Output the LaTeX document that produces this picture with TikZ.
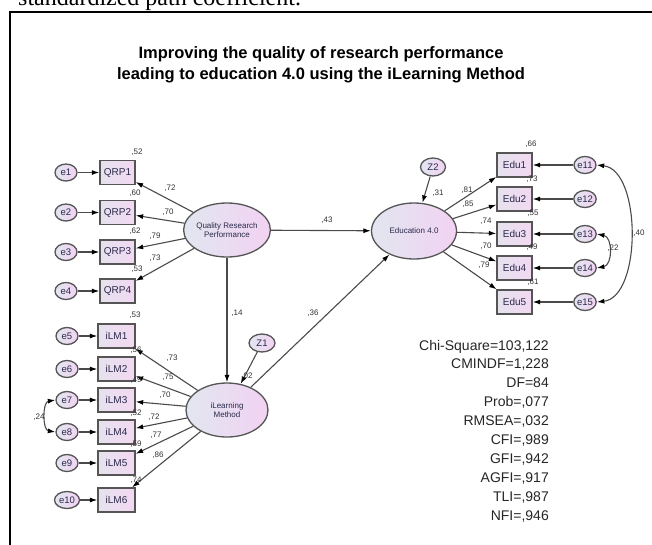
\documentclass[tikz,border=0pt]{standalone}
\usepackage{fontspec}
\setmainfont{Liberation Sans}
\newfontfamily\serifhead{Liberation Serif}
\usetikzlibrary{shapes.geometric,arrows.meta}
\definecolor{linec}{HTML}{4A4A4A}
\definecolor{boxc}{HTML}{555555}
\definecolor{boxl}{HTML}{E6E2EE}
\definecolor{boxr}{HTML}{F2D8F2}
\definecolor{elll}{HTML}{E2E6F0}
\definecolor{ellr}{HTML}{F2D2F2}
\definecolor{txtc}{HTML}{2A2A4A}
\definecolor{labc}{HTML}{333333}
\begin{document}
\begin{tikzpicture}[x=1pt,y=-1pt,
  arr/.style={draw=linec, line width=1.1pt, -{Latex[length=7.5pt,width=5pt,color=black]}},
  covar/.style={draw=linec, line width=1.1pt, {Latex[length=7.5pt,width=5pt,color=black]}-{Latex[length=7.5pt,width=5pt,color=black]}},
  obsbox/.style={draw=boxc, line width=1.3pt, left color=boxl, right color=boxr,
    minimum width=35pt, minimum height=24pt, inner sep=0pt,
    font=\fontsize{10}{12}\selectfont, text=txtc},
  latent/.style={ellipse, draw=boxc, line width=1.3pt, left color=elll, right color=ellr,
    minimum width=84pt, minimum height=54pt, inner sep=0pt, align=center,
    font=\fontsize{8}{9.5}\selectfont, text=txtc},
  errc/.style={ellipse, draw=boxc, line width=1.3pt, left color=elll, right color=ellr,
    minimum width=22pt, minimum height=17pt, inner sep=0pt,
    font=\fontsize{9.5}{10}\selectfont, text=txtc},
  lbl/.style={font=\fontsize{8}{9}\selectfont, text=labc, inner sep=0pt},
  stat/.style={font=\fontsize{14}{16}\selectfont, text=black!85, anchor=base east, inner sep=0pt}
]
\clip (0,0) rectangle (652,544);
\fill[white] (0,0) rectangle (652,544);
% cut-off heading
\node[anchor=base west, inner sep=0pt, font=\serifhead\fontsize{24}{24}\selectfont] (head) at (18,5) {standardized path coefficient.};
% frame
\draw[line width=2pt] (10,12) rectangle (680,580);
% title
\node[anchor=base, inner sep=0pt, font=\bfseries\fontsize{16.5}{20}\selectfont] (t1) at (321,58) {Improving the quality of research performance};
\node[anchor=base, inner sep=0pt, font=\bfseries\fontsize{16.5}{20}\selectfont] (t2) at (321,79) {leading to education 4.0 using the iLearning Method};

% latent variables
\node[latent] (QRP) at (227,230) {Quality Research\\Performance};
\node[latent, minimum width=85pt, minimum height=56pt] (EDU) at (414,231) {Education 4.0};
\node[latent, minimum width=82pt] (ILM) at (227,410) {iLearning\\Method};
\node[errc, minimum width=26pt, minimum height=18pt] (Z1) at (262,343) {Z1};
\node[errc, minimum width=25pt, minimum height=18pt] (Z2) at (433,167) {Z2};

% QRP indicators
\foreach \i/\y in {1/172.5,2/212.5,3/252,4/291}{
  \node[obsbox] (QRP\i) at (117.5,\y) {QRP\i};
  \node[errc] (e\i) at (66,\y) {e\i};
  \draw[arr] (e\i) -- (QRP\i);
  \draw[arr] (QRP) -- (QRP\i);
}
% iLM indicators
\foreach \i/\e/\w/\y in {1/5/22/336,2/6/22/369,3/7/22/400,4/8/22/432,5/9/22/463,6/10/25/500}{
  \node[obsbox, minimum width=37pt] (ILM\i) at (116.5,\y) {iLM\i};
  \node[errc, minimum width=\w pt] (e\e) at (67,\y) {e\e};
  \draw[arr] (e\e) -- (ILM\i);
  \draw[arr] (ILM) -- (ILM\i);
}
% Edu indicators
\foreach \i/\e/\y in {1/11/165,2/12/199,3/13/234,4/14/268,5/15/302}{
  \node[obsbox] (EDU\i) at (514.5,\y) {Edu\i};
  \node[errc] (e\e) at (585,\y) {e\e};
  \draw[arr] (e\e) -- (EDU\i);
  \draw[arr] (EDU) -- (EDU\i);
}

% structural paths
\draw[arr] (QRP) -- (EDU);
\draw[arr] (QRP) -- (ILM);
\draw[arr] (ILM) -- (EDU);
\draw[arr] (Z1) -- (ILM);
\draw[arr] (Z2) -- (EDU);

% covariances
\draw[covar] (e11.east) .. controls +(45,5) and +(45,-5) .. (e15.east);
\draw[covar] (e13.east) .. controls +(16,3) and +(16,-3) .. (e14.east);
\draw[covar] (e7.west) .. controls +(-13,2) and +(-13,-2) .. (e8.west);

% labels QRP
\node[lbl] at (137,152) {,52};
\node[lbl] at (170,188) {,72};
\node[lbl] at (135,193) {,60};
\node[lbl] at (168,212) {,70};
\node[lbl] at (135,231) {,62};
\node[lbl] at (155,236) {,79};
\node[lbl] at (155,258) {,73};
\node[lbl] at (137,269) {,53};
% labels iLM
\node[lbl] at (135,315) {,53};
\node[lbl] at (172,358) {,73};
\node[lbl] at (136,350) {,56};
\node[lbl] at (168,377) {,75};
\node[lbl] at (136,380) {,49};
\node[lbl] at (165,395) {,70};
\node[lbl] at (136,413) {,52};
\node[lbl] at (154,417) {,72};
\node[lbl] at (156,435) {,77};
\node[lbl] at (136,444) {,59};
\node[lbl] at (158,455) {,86};
\node[lbl] at (136,480) {,74};
\node[lbl] at (39,417) {,24};
% structural labels
\node[lbl] at (327,220) {,43};
\node[lbl] at (237,313) {,14};
\node[lbl] at (313,313) {,36};
\node[lbl] at (247,376) {,02};
\node[lbl] at (438,193) {,31};
% labels Edu
\node[lbl] at (531,144) {,66};
\node[lbl] at (532,179) {,73};
\node[lbl] at (533,213) {,55};
\node[lbl] at (532,247) {,49};
\node[lbl] at (533,282) {,61};
\node[lbl] at (467,190) {,81};
\node[lbl] at (468,204) {,85};
\node[lbl] at (486,221) {,74};
\node[lbl] at (486,246) {,70};
\node[lbl] at (484,265) {,79};
\node[lbl] at (613,248) {,22};
\node[lbl] at (639,233) {,40};

% fit statistics
\foreach \t [count=\k from 0] in {Chi-Square=103{,}122, CMINDF=1{,}228, DF=84, Prob={,}077, RMSEA={,}032, CFI={,}989, GFI={,}942, AGFI={,}917, TLI={,}987, NFI={,}946}{
  \node[stat] (s\k) at (549,350+18.9*\k) {\t};
}
\end{tikzpicture}
\end{document}
